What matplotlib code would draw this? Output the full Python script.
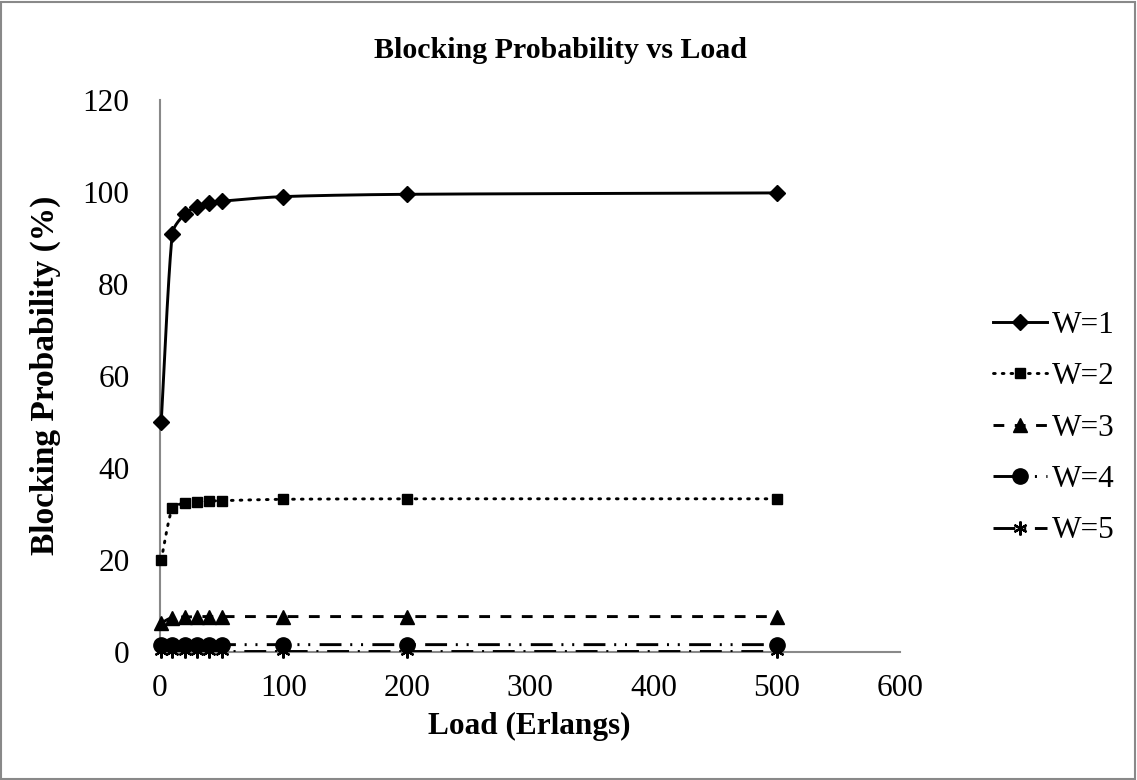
import numpy as np
import matplotlib
matplotlib.use("Agg")
import matplotlib.pyplot as plt
from matplotlib.patches import Rectangle
from matplotlib.lines import Line2D

plt.rcParams['font.family'] = ['Liberation Serif', 'DejaVu Serif']

# blocking probability (%) for each number of wavelengths W
load = [1, 10, 20, 30, 40, 50, 100, 200, 500]
w1 = [50.0, 90.9, 95.2, 96.8, 97.6, 98.0, 99.0, 99.5, 99.8]
w2 = [20.0, 31.3, 32.3, 32.6, 32.8, 32.9, 33.2, 33.3, 33.3]
w3 = [6.3, 7.5, 7.6, 7.7, 7.7, 7.7, 7.7, 7.7, 7.7]
w4 = [1.5, 1.6, 1.6, 1.6, 1.6, 1.6, 1.6, 1.6, 1.6]
w5 = [0.3, 0.3, 0.3, 0.3, 0.3, 0.3, 0.3, 0.3, 0.3]
labels = ["W=1", "W=2", "W=3", "W=4", "W=5"]
x_ticks = [0, 100, 200, 300, 400, 500, 600]
y_ticks = [0, 20, 40, 60, 80, 100, 120]

LW = 2.1
styles = [
    dict(ls='-', marker='D', ms=8.5),
    dict(ls=(0, (0.6, 2.4)), marker='s', ms=7.2, dash_capstyle='round'),
    dict(ls=(0, (3.7, 3.6)), marker='^', ms=10),
    dict(ls=(0, (7.5, 3.0, 0.7, 3.0, 0.7, 3.2)), marker='o', ms=11),
    dict(ls=(0, (7.5, 3.0, 0.7, 3.0)), marker=(6, 2, 0), ms=10, mew=1.6),
]


def smooth(ax, xs, ys, n=30):
    # Bezier curve through the points (Catmull-Rom tangents, clamped per segment),
    # built in screen space
    pts = ax.transData.transform(np.column_stack([xs, ys]))
    p = np.vstack([pts[0], pts, pts[-1]])
    out = []
    for i in range(1, len(p) - 2):
        p0, p1, p2, p3 = p[i - 1], p[i], p[i + 1], p[i + 2]
        seg_len = np.linalg.norm(p2 - p1)
        d1 = (p2 - p0) / 6
        d2 = (p3 - p1) / 6
        for d in (d1, d2):
            m = np.linalg.norm(d)
            if m > seg_len / 3:
                d *= (seg_len / 3) / m
        c1 = p1 + d1
        c2 = p2 - d2
        t = np.linspace(0, 1, n)[:, None]
        seg = ((1 - t) ** 3 * p1 + 3 * (1 - t) ** 2 * t * c1
               + 3 * (1 - t) * t ** 2 * c2 + t ** 3 * p2)
        out.append(seg if i == 1 else seg[1:])
    curve = ax.transData.inverted().transform(np.vstack(out))
    return curve[:, 0], curve[:, 1]


fig = plt.figure(figsize=(11.37, 7.8), dpi=100)
ax = fig.add_axes([160 / 1137, 1 - 652 / 780, 740 / 1137, 552 / 780])
ax.set_xlim(0, 600)
ax.set_ylim(0, 120)

handles = []
for ys, st in zip([w1, w2, w3, w4, w5], styles):
    sx, sy = smooth(ax, load, ys)
    ax.plot(sx, sy, color='black', lw=LW, ls=st['ls'],
            dash_capstyle=st.get('dash_capstyle', 'butt'), zorder=3)
    ax.plot(load, ys, ls='none', marker=st['marker'], ms=st['ms'],
            mew=st.get('mew', 1), color='black', zorder=4, clip_on=False)
    handles.append(Line2D([], [], color='black', lw=LW, ls=st['ls'],
                          dash_capstyle=st.get('dash_capstyle', 'butt'),
                          marker=st['marker'], ms=st['ms'], mew=st.get('mew', 1)))

ax.set_xticks(x_ticks)
ax.set_yticks(y_ticks)
ax.tick_params(length=0, labelsize=22.5)
ax.tick_params(axis='x', pad=16)
ax.tick_params(axis='y', pad=22)
for side in ['top', 'right']:
    ax.spines[side].set_visible(False)
for side in ['left', 'bottom']:
    ax.spines[side].set_color('#898989')
    ax.spines[side].set_linewidth(1.5)

fig.text(560 / 1137, 1 - 50 / 780, "Blocking Probability vs Load",
         ha='center', va='center', fontsize=21.5, fontweight='bold')
fig.text(529 / 1137, 1 - 726 / 780, "Load (Erlangs)",
         ha='center', va='center', fontsize=22.5, fontweight='bold')
fig.text(45 / 1137, 1 - 375 / 780, "Blocking Probability (%)",
         ha='center', va='center', rotation=90, fontsize=24, fontweight='bold')

fig.legend(handles, labels, loc='center left',
           bbox_to_anchor=(980 / 1137, 1 - 428 / 780), frameon=False,
           fontsize=22.5, handlelength=1.75, handletextpad=0.15,
           labelspacing=0.72, borderaxespad=0)

fig.patches.append(Rectangle((0.001, 0.001), 0.997, 0.997, transform=fig.transFigure,
                             fill=False, edgecolor='#898989', lw=1.5))

fig.savefig("out.png", dpi=100)
